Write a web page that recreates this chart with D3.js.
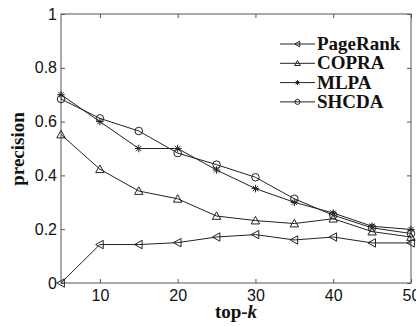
<!DOCTYPE html>
<html>
<head>
<meta charset="utf-8">
<script src="https://cdn.jsdelivr.net/npm/d3@7"></script>
<style>
  body { margin: 0; background: #fff; }
  svg { display: block; }
</style>
</head>
<body>
<svg id="chart" width="416" height="326"></svg>
<script>
// top-k values
const topK = [5, 10, 15, 20, 25, 30, 35, 40, 45, 50];
const pageRank = [0.0, 0.143, 0.143, 0.15, 0.171, 0.18, 0.16, 0.171, 0.149, 0.149];
const copra = [0.552, 0.423, 0.342, 0.313, 0.249, 0.232, 0.221, 0.239, 0.191, 0.171];
const mlpa = [0.70, 0.60, 0.50, 0.50, 0.42, 0.351, 0.30, 0.26, 0.211, 0.199];
const shcda = [0.684, 0.612, 0.565, 0.483, 0.44, 0.393, 0.313, 0.252, 0.205, 0.184];
const seriesNames = ["PageRank", "COPRA", "MLPA", "SHCDA"];
const xTicks = [10, 20, 30, 40, 50];
const yTicks = [0, 0.2, 0.4, 0.6, 0.8, 1];

const series = [
  { name: seriesNames[0], values: pageRank, marker: "left" },
  { name: seriesNames[1], values: copra, marker: "up" },
  { name: seriesNames[2], values: mlpa, marker: "star" },
  { name: seriesNames[3], values: shcda, marker: "circle" }
];

const svg = d3.select("#chart"),
  margin = { top: 14, right: 5, bottom: 43, left: 61 },
  width = +svg.attr("width") - margin.left - margin.right,
  height = +svg.attr("height") - margin.top - margin.bottom,
  g = svg.append("g").attr("transform", "translate(" + margin.left + "," + margin.top + ")");

const axisColor = "#555";
const lineColor = "#222";

const x = d3.scaleLinear().domain([5, 50]).range([0, width]);
const y = d3.scaleLinear().domain([0, 1]).range([height, 0]);

// box
g.append("rect")
  .attr("x", 0).attr("y", 0)
  .attr("width", width).attr("height", height)
  .attr("fill", "none").attr("stroke", axisColor);

function styleAxis(sel) {
  sel.select(".domain").remove();
  sel.selectAll(".tick line").attr("stroke", axisColor);
  sel.selectAll(".tick text")
    .attr("font-family", "Liberation Sans, Arial, sans-serif")
    .attr("font-size", 16)
    .attr("fill", "#111");
}

g.append("g")
  .attr("transform", "translate(0," + height + ")")
  .call(d3.axisBottom(x).tickValues(xTicks).tickSizeInner(-4).tickSizeOuter(0).tickPadding(7))
  .call(styleAxis);

g.append("g")
  .call(d3.axisTop(x).tickValues(xTicks).tickSizeInner(-4).tickSizeOuter(0).tickFormat(""))
  .call(styleAxis);

g.append("g")
  .call(d3.axisLeft(y).tickValues(yTicks).tickSizeInner(-4).tickSizeOuter(0).tickPadding(4)
    .tickFormat(d => d === 0 ? "0" : d === 1 ? "1" : d3.format(".1f")(d)))
  .call(styleAxis);

g.append("g")
  .attr("transform", "translate(" + width + ",0)")
  .call(d3.axisRight(y).tickValues(yTicks).tickSizeInner(-4).tickSizeOuter(0).tickFormat(""))
  .call(styleAxis);

function drawMarker(sel, type, s) {
  if (type === "circle") {
    sel.append("circle").attr("r", s * 0.9)
      .attr("fill", "none").attr("stroke", lineColor).attr("stroke-width", 1);
  } else if (type === "up") {
    sel.append("path")
      .attr("d", "M0," + (-s) + "L" + s + "," + (s * 0.8) + "L" + (-s) + "," + (s * 0.8) + "Z")
      .attr("fill", "none").attr("stroke", lineColor).attr("stroke-width", 1);
  } else if (type === "left") {
    sel.append("path")
      .attr("d", "M" + (-s) + ",0L" + (s * 0.8) + "," + (-s) + "L" + (s * 0.8) + "," + s + "Z")
      .attr("fill", "none").attr("stroke", lineColor).attr("stroke-width", 1);
  } else if (type === "star") {
    const r = s * 0.9;
    let d = "M" + (-r) + ",0L" + r + ",0M0," + (-r) + "L0," + r;
    const q = r * 0.7;
    d += "M" + (-q) + "," + (-q) + "L" + q + "," + q + "M" + (-q) + "," + q + "L" + q + "," + (-q);
    sel.append("path").attr("d", d)
      .attr("fill", "none").attr("stroke", lineColor).attr("stroke-width", 1);
  }
}

const line = d3.line()
  .x(d => x(d[0]))
  .y(d => y(d[1]));

series.forEach(s => {
  const pts = topK.map((k, i) => [k, s.values[i]]);
  g.append("path")
    .datum(pts)
    .attr("d", line)
    .attr("fill", "none")
    .attr("stroke", lineColor)
    .attr("stroke-width", 1);
  g.selectAll(null)
    .data(pts)
    .enter().append("g")
    .attr("transform", d => "translate(" + x(d[0]) + "," + y(d[1]) + ")")
    .each(function () { drawMarker(d3.select(this), s.marker, 4.2); });
});

// legend
const legend = g.append("g")
  .attr("transform", "translate(" + (280 - margin.left) + "," + (44 - margin.top) + ")")
  .selectAll("g")
  .data(series)
  .enter().append("g")
  .attr("transform", (d, i) => "translate(0," + i * 19.3 + ")");

legend.append("line")
  .attr("x1", 0).attr("x2", 35)
  .attr("stroke", lineColor).attr("stroke-width", 1);

legend.each(function (d) {
  const m = d3.select(this).append("g").attr("transform", "translate(17.5,0)");
  drawMarker(m, d.marker, 2.8);
});

legend.append("text")
  .attr("x", 37)
  .attr("y", 6)
  .attr("font-family", "Liberation Serif, Times New Roman, serif")
  .attr("font-weight", "bold")
  .attr("font-size", 19)
  .attr("fill", "#111")
  .text(d => d.name);

// axis labels
svg.append("text")
  .attr("transform", "translate(24," + 149 + ") rotate(-90)")
  .attr("text-anchor", "middle")
  .attr("font-family", "Liberation Serif, Times New Roman, serif")
  .attr("font-weight", "bold")
  .attr("font-size", 19)
  .attr("fill", "#111")
  .text("precision");

const xl = svg.append("text")
  .attr("x", margin.left + width / 2)
  .attr("y", 318)
  .attr("text-anchor", "middle")
  .attr("font-family", "Liberation Serif, Times New Roman, serif")
  .attr("font-weight", "bold")
  .attr("font-size", 19)
  .attr("fill", "#111");
xl.append("tspan").text("top-");
xl.append("tspan").attr("font-style", "italic").text("k");
</script>
</body>
</html>
